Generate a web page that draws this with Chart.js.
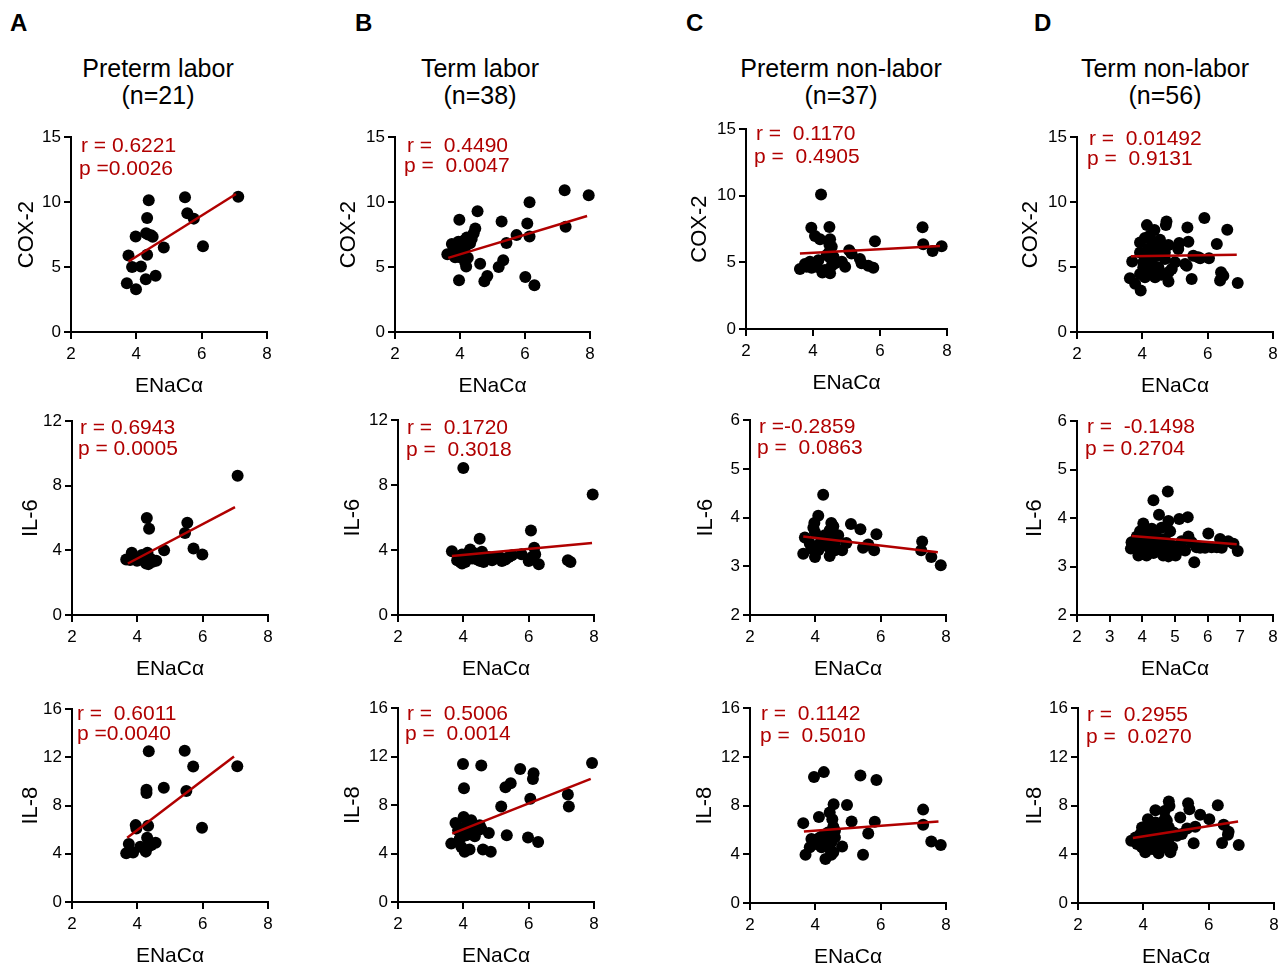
<!DOCTYPE html>
<html>
<head>
<meta charset="utf-8">
<script src="https://cdn.jsdelivr.net/npm/chart.js@4.4.1/dist/chart.umd.min.js"></script>
<style>
  body { margin: 0; background: #fff; width: 1280px; height: 965px; position: relative; overflow: hidden;
         font-family: "Liberation Sans", Arial, sans-serif; color: #000; }
  canvas { position: absolute; }
  .letter { position: absolute; font-weight: bold; font-size: 24px; line-height: 1; }
  .ttl { position: absolute; font-size: 25px; line-height: 27px; text-align: center; white-space: nowrap; transform: translateX(-50%); }
  .stat { position: absolute; color: #b00000; font-size: 21px; line-height: 1; white-space: pre; }
</style>
</head>
<body>
<div class="letter" style="left:10px;top:11px">A</div>
<div class="letter" style="left:355px;top:11px">B</div>
<div class="letter" style="left:686px;top:11px">C</div>
<div class="letter" style="left:1034px;top:11px">D</div>
<div class="ttl" style="left:158px;top:55px">Preterm labor<br>(n=21)</div>
<div class="ttl" style="left:480px;top:55px">Term labor<br>(n=38)</div>
<div class="ttl" style="left:841px;top:55px">Preterm non-labor<br>(n=37)</div>
<div class="ttl" style="left:1165px;top:55px">Term non-labor<br>(n=56)</div>
<script>
// ---------- data (ENaCα on x) ----------
// Preterm labor
const ptlCoxX = [4.38,5.49,7.12,5.56,5.76,4.33,4.30,4.50,3.98,4.45,4.84,6.04,3.76,4.33,3.87,4.14,4.59,4.29,3.71,3.99,4.36];
const ptlCoxY = [10.15,10.38,10.41,9.14,8.73,8.78,7.61,7.33,7.36,7.45,6.50,6.60,5.89,5.94,5.00,5.05,4.34,4.06,3.76,3.30,7.50];
const ptlCoxFit = [[3.76,5.43],[7.05,10.63]];
const ptlIl6X = [7.07,4.29,4.36,5.53,5.46,4.82,5.72,5.99,3.66,3.83,3.99,4.14,4.31,4.27,4.39,4.58,3.90,4.09,4.34,4.47,3.78];
const ptlIl6Y = [8.62,6.00,5.34,5.71,5.08,4.01,4.12,3.75,3.44,3.85,3.36,3.71,3.85,3.19,3.50,3.36,3.60,3.44,3.15,3.30,3.40];
const ptlIl6Fit = [[3.71,3.19],[6.99,6.68]];
const ptlIl8X = [4.35,5.45,5.71,7.06,4.81,4.28,4.28,5.50,3.95,3.97,4.33,5.98,4.30,4.56,4.43,3.74,4.09,3.66,3.87,4.26,4.33];
const ptlIl8Y = [12.51,12.56,11.24,11.27,9.48,9.32,9.04,9.21,6.38,6.10,6.32,6.16,5.33,4.92,4.73,4.81,4.59,4.04,4.10,4.18,4.59];
const ptlIl8Fit = [[3.69,5.33],[6.96,12.07]];

// Term labor
const tlCoxX = [7.22,7.96,6.14,4.54,3.98,5.28,6.07,4.47,4.42,4.21,7.25,5.74,6.14,5.43,3.75,3.95,4.31,4.06,3.61,3.85,
                4.06,4.24,4.16,4.19,4.62,5.33,5.19,3.97,4.84,4.75,6.01,6.29,3.90,4.00,4.11,3.80,4.14,4.36];
const tlCoxY = [10.91,10.53,10.00,9.29,8.65,8.50,8.35,7.97,7.61,7.28,8.10,7.46,7.36,6.85,6.78,6.95,6.83,6.65,5.99,5.76,
                6.14,5.71,5.38,5.05,5.25,5.53,5.00,3.98,4.31,3.91,4.24,3.60,6.40,5.76,7.03,6.27,6.35,7.16];
const tlCoxFit = [[3.64,5.71],[7.91,8.93]];
const tlIl6X = [4.00,7.96,6.07,4.50,3.65,3.96,4.21,4.57,4.37,3.81,3.96,4.27,4.62,4.88,5.18,5.39,5.49,5.78,6.17,6.20,
                6.00,6.31,7.20,7.28,4.11,4.78,4.42,4.06,5.13,3.86,4.67,4.32,3.91,6.10,5.29,4.52,4.16,4.98];
const tlIl6Y = [9.06,7.42,5.21,4.70,3.93,3.72,4.03,3.89,3.68,3.37,3.17,3.48,3.27,3.37,3.33,3.58,3.68,3.74,4.15,3.74,
                3.33,3.13,3.37,3.27,3.78,3.58,3.42,3.27,3.54,3.58,3.58,3.82,3.27,3.58,3.42,3.33,3.58,3.48];
const tlIl6Fit = [[3.65,3.64],[7.94,4.44]];
const tlIl8X = [3.99,4.55,7.94,5.74,6.15,6.13,5.45,5.29,4.02,6.05,7.20,7.23,5.16,4.01,3.76,4.24,4.50,4.04,4.30,4.45,
                3.84,4.09,4.35,4.78,5.33,3.63,3.94,4.04,4.19,4.60,4.84,5.98,6.29,4.14,3.94,4.19,3.89,4.55];
const tlIl8Y = [11.40,11.26,11.48,10.99,10.63,10.16,9.81,9.48,9.40,8.52,8.88,7.89,7.89,7.01,6.52,6.74,6.33,6.19,5.78,5.92,
                5.92,5.51,5.42,5.70,5.51,4.82,4.55,4.14,4.33,4.33,4.14,5.32,4.96,5.92,5.37,6.47,5.23,6.05];
const tlIl8Fit = [[3.66,5.64],[7.90,10.16]];

// Preterm non-labor
const ptnCoxX = [4.24,3.95,4.49,7.27,4.06,4.21,4.51,4.49,5.85,7.29,7.84,7.57,5.08,4.49,4.51,4.16,3.91,3.76,3.61,3.96,
                 4.36,4.51,4.28,4.66,4.86,4.96,5.40,5.45,5.65,5.80,4.56,4.41,4.61,4.11,5.15,3.81,4.56];
const ptnCoxY = [10.10,7.61,7.66,7.64,6.99,6.74,6.74,6.34,6.59,6.37,6.22,5.85,5.92,5.80,5.35,5.17,5.05,4.88,4.50,4.60,
                 4.43,4.18,4.25,4.93,5.05,4.68,5.25,4.93,4.75,4.60,6.17,5.55,5.42,4.68,5.67,4.68,4.75];
const ptnCoxFit = [[3.61,5.67],[7.79,6.24]];
const ptnIl6X = [4.24,4.09,3.97,3.94,4.49,4.55,4.44,5.09,5.38,5.87,4.29,4.49,3.68,3.83,4.14,4.60,4.95,4.19,5.62,5.46,
                 5.80,4.82,4.44,3.99,3.63,7.27,7.24,7.55,7.84,4.39,4.60,3.88,4.24,3.99,4.70,4.39,4.09];
const ptnIl6Y = [4.47,4.04,3.89,3.79,3.89,3.82,3.74,3.87,3.76,3.66,3.64,3.60,3.59,3.47,3.47,3.48,3.48,3.60,3.45,3.38,
                 3.33,3.33,3.21,3.19,3.26,3.51,3.33,3.19,3.02,3.40,3.33,3.36,3.52,3.70,3.64,3.50,3.33];
const ptnIl6Fit = [[3.63,3.61],[7.75,3.29]];
const ptnIl8X = [4.26,3.96,5.38,5.87,4.56,4.97,7.30,4.44,4.11,4.52,3.63,5.11,5.82,7.30,4.55,5.62,7.55,7.84,3.88,4.14,
                 4.60,3.99,3.83,4.82,4.44,3.70,4.31,4.55,5.46,4.29,4.49,4.39,4.19,3.99,4.60,4.49,4.24];
const ptnIl8Y = [10.75,10.34,10.48,10.10,8.11,8.05,7.67,7.43,7.07,6.88,6.56,6.69,6.67,6.42,6.26,5.71,5.06,4.76,5.25,5.39,
                 5.39,4.84,4.57,4.65,4.44,3.97,3.62,4.16,3.97,4.98,4.98,5.80,4.57,5.17,5.93,3.97,5.52];
const ptnIl8Fit = [[3.65,5.88],[7.77,6.69]];

// Term non-labor
const tnCoxX = [5.90,6.60,4.74,4.72,4.14,4.37,5.38,4.08,3.93,4.54,4.29,4.80,5.13,5.41,6.28,4.18,4.59,4.44,4.13,5.56,
                5.77,6.04,3.69,4.03,4.23,5.00,5.31,4.90,4.80,4.18,4.08,4.39,4.59,4.80,5.51,6.41,6.48,6.38,6.92,3.62,
                3.78,3.95,3.93,4.34,4.49,4.34,4.69,4.03,4.54,4.69,4.23,5.36,5.71,5.10,3.93,4.29];
const tnCoxY = [8.77,7.87,8.51,8.23,8.23,7.85,8.05,7.23,6.90,7.10,6.95,6.70,6.85,6.95,6.77,6.39,6.26,5.88,5.88,5.88,
                5.67,5.67,5.42,5.37,5.11,5.37,5.24,4.86,4.60,4.60,4.22,4.22,4.40,3.88,4.09,4.60,4.34,3.96,3.78,4.14,
                3.71,3.19,6.13,6.39,4.98,4.73,5.62,4.98,6.64,6.13,7.41,5.11,5.75,6.39,4.47,5.49];
const tnCoxFit = [[3.65,5.83],[6.89,5.95]];
const tnIl6X = [4.78,4.34,4.51,4.80,5.13,5.39,4.03,3.93,4.59,4.85,4.29,4.39,3.67,3.83,4.13,4.69,5.41,6.02,6.38,6.63,
                5.51,5.77,5.92,6.28,6.43,5.31,3.65,3.98,4.08,4.34,4.29,4.64,4.80,5.02,4.49,4.90,4.13,5.59,6.92,6.79,
                4.69,3.93,3.78,4.54,4.23,5.00,5.20,4.44,4.03,4.59,4.18,5.66,6.12,4.85,3.88,5.10];
const tnIl6Y = [4.55,4.37,4.07,3.94,3.98,4.02,3.89,3.73,3.80,3.73,3.78,3.66,3.50,3.62,3.62,3.57,3.62,3.68,3.57,3.52,
                3.50,3.39,3.39,3.40,3.39,3.33,3.37,3.26,3.37,3.28,3.40,3.23,3.21,3.23,3.47,3.44,3.23,3.09,3.32,3.47,
                3.40,3.47,3.40,3.57,3.50,3.40,3.52,3.35,3.50,3.33,3.76,3.40,3.40,3.33,3.23,3.33];
const tnIl6Fit = [[3.67,3.63],[6.89,3.46]];
const tnIl8X = [4.78,4.80,5.37,5.41,6.28,4.37,4.65,5.74,6.02,4.14,5.13,4.67,4.57,6.46,3.96,4.27,4.78,5.34,5.59,6.61,
                6.59,5.03,3.91,4.16,4.47,4.65,3.63,3.81,4.06,4.32,4.78,4.88,4.52,4.27,4.06,4.47,4.83,5.54,6.41,6.92,
                3.96,4.16,4.37,3.96,4.62,4.93,3.76,4.21,4.42,4.67,5.18,4.01,4.37,4.72,3.86,4.57];
const tnIl8Y = [8.33,7.97,8.19,7.70,8.03,7.62,7.56,7.24,6.88,6.88,7.02,6.97,6.61,6.42,6.20,6.20,6.20,6.12,6.26,5.85,
                5.61,5.52,5.66,5.80,5.66,5.44,5.12,4.84,4.98,5.17,5.25,4.57,4.84,4.44,4.16,4.08,4.16,4.90,4.93,4.76,
                4.57,5.39,5.66,5.25,6.07,5.80,5.39,4.84,4.57,4.57,5.66,5.80,6.61,6.75,5.12,5.12];
const tnIl8Fit = [[3.68,5.33],[6.90,6.69]];

// ---------- panel layout ----------
const RED = "#b00000";
const FONT = '"Liberation Sans", Arial, sans-serif';
const WY = 60, TOP = 12, RIGHT = 14, HX = 67;

const panels = [
  { x: ptlCoxX, y: ptlCoxY, fit: ptlCoxFit, L: 71, R: 267, T: 136, B: 332, ymin: 0, ymax: 15, ystep: 5, xstep: 2, ylab: "COX-2", yt: 44,
    r: "r = 0.6221", p: "p =0.0026", rx: 81, ry: 145, px: 79, py: 168 },
  { x: tlCoxX, y: tlCoxY, fit: tlCoxFit, L: 395, R: 590, T: 136, B: 332, ymin: 0, ymax: 15, ystep: 5, xstep: 2, ylab: "COX-2", yt: 46,
    r: "r =  0.4490", p: "p =  0.0047", rx: 407, ry: 145, px: 404, py: 165 },
  { x: ptnCoxX, y: ptnCoxY, fit: ptnCoxFit, L: 746, R: 947, T: 128, B: 329, ymin: 0, ymax: 15, ystep: 5, xstep: 2, ylab: "COX-2", yt: 46,
    r: "r =  0.1170", p: "p =  0.4905", rx: 756, ry: 133, px: 754, py: 156 },
  { x: tnCoxX, y: tnCoxY, fit: tnCoxFit, L: 1077, R: 1273, T: 136, B: 332, ymin: 0, ymax: 15, ystep: 5, xstep: 2, ylab: "COX-2", yt: 46,
    r: "r =  0.01492", p: "p =  0.9131", rx: 1089, ry: 138, px: 1087, py: 158 },
  { x: ptlIl6X, y: ptlIl6Y, fit: ptlIl6Fit, L: 72, R: 268, T: 420, B: 615, ymin: 0, ymax: 12, ystep: 4, xstep: 2, ylab: "IL-6", yt: 41,
    r: "r = 0.6943", p: "p = 0.0005", rx: 80, ry: 427, px: 78, py: 448 },
  { x: tlIl6X, y: tlIl6Y, fit: tlIl6Fit, L: 398, R: 594, T: 419, B: 615, ymin: 0, ymax: 12, ystep: 4, xstep: 2, ylab: "IL-6", yt: 45,
    r: "r =  0.1720", p: "p =  0.3018", rx: 407, ry: 427, px: 406, py: 449 },
  { x: ptnIl6X, y: ptnIl6Y, fit: ptnIl6Fit, L: 750, R: 946, T: 419, B: 615, ymin: 2, ymax: 6, ystep: 1, xstep: 2, ylab: "IL-6", yt: 44,
    r: "r =-0.2859", p: "p =  0.0863", rx: 759, ry: 426, px: 757, py: 447 },
  { x: tnIl6X, y: tnIl6Y, fit: tnIl6Fit, L: 1077, R: 1273, T: 420, B: 615, ymin: 2, ymax: 6, ystep: 1, xstep: 1, ylab: "IL-6", yt: 42,
    r: "r =  -0.1498", p: "p = 0.2704", rx: 1087, ry: 426, px: 1085, py: 448 },
  { x: ptlIl8X, y: ptlIl8Y, fit: ptlIl8Fit, L: 72, R: 268, T: 708, B: 902, ymin: 0, ymax: 16, ystep: 4, xstep: 2, ylab: "IL-8", yt: 41,
    r: "r =  0.6011", p: "p =0.0040", rx: 77, ry: 713, px: 77, py: 733 },
  { x: tlIl8X, y: tlIl8Y, fit: tlIl8Fit, L: 398, R: 594, T: 707, B: 902, ymin: 0, ymax: 16, ystep: 4, xstep: 2, ylab: "IL-8", yt: 45,
    r: "r =  0.5006", p: "p =  0.0014", rx: 407, ry: 713, px: 405, py: 733 },
  { x: ptnIl8X, y: ptnIl8Y, fit: ptnIl8Fit, L: 750, R: 946, T: 707, B: 903, ymin: 0, ymax: 16, ystep: 4, xstep: 2, ylab: "IL-8", yt: 45,
    r: "r =  0.1142", p: "p =  0.5010", rx: 761, ry: 713, px: 760, py: 735 },
  { x: tnIl8X, y: tnIl8Y, fit: tnIl8Fit, L: 1078, R: 1274, T: 707, B: 903, ymin: 0, ymax: 16, ystep: 4, xstep: 2, ylab: "IL-8", yt: 43,
    r: "r =  0.2955", p: "p =  0.0270", rx: 1087, ry: 714, px: 1086, py: 736 },
];

const statDiv = (txt, x, y) => {
  const d = document.createElement("div");
  d.className = "stat";
  d.textContent = txt;
  d.style.left = x + "px";
  d.style.top = (y - 11) + "px";
  document.body.appendChild(d);
};

const axisBase = {
  grid: { drawOnChartArea: false, drawTicks: true, tickLength: 7, color: "#000", lineWidth: 2 },
  border: { display: true, color: "#000", width: 2 },
};

panels.forEach(p => {
  const w = WY + (p.R - p.L) + RIGHT;
  const h = TOP + (p.B - p.T) + HX;
  const cv = document.createElement("canvas");
  cv.width = w; cv.height = h;
  cv.style.left = (p.L - WY) + "px";
  cv.style.top = (p.T - TOP) + "px";
  cv.style.width = w + "px"; cv.style.height = h + "px";
  document.body.appendChild(cv);

  new Chart(cv, {
    type: "scatter",
    data: {
      datasets: [
        { type: "line", data: p.fit.map(([x, y]) => ({ x, y })), borderColor: RED, borderWidth: 2.5,
          pointRadius: 0, fill: false, order: 0, clip: false },
        { data: p.x.map((x, i) => ({ x, y: p.y[i] })), backgroundColor: "#000", borderWidth: 0,
          pointRadius: 6, order: 1, clip: false },
      ]
    },
    options: {
      responsive: false, animation: false, devicePixelRatio: 1,
      layout: { padding: { top: TOP, right: RIGHT, left: 0, bottom: 0 } },
      plugins: { legend: { display: false }, tooltip: { enabled: false } },
      scales: {
        x: {
          ...axisBase, type: "linear", min: 2, max: 8,
          ticks: { stepSize: p.xstep, font: { size: 17, family: FONT }, color: "#000", padding: 5 },
          title: { display: true, text: "ENaCα", font: { size: 21, family: FONT }, color: "#000", padding: 0 },
          afterFit: s => { s.height = HX; }
        },
        y: {
          ...axisBase, type: "linear", min: p.ymin, max: p.ymax,
          ticks: { stepSize: p.ystep, font: { size: 17, family: FONT }, color: "#000", padding: 3 },
          title: { display: true, text: p.ylab, font: { size: 22, family: FONT }, color: "#000",
                   padding: { top: Math.max(0, WY - p.yt - 13.2), bottom: 0 } },
          afterFit: s => { s.width = WY; }
        }
      }
    }
  });

  statDiv(p.r, p.rx, p.ry);
  statDiv(p.p, p.px, p.py);
});
</script>
</body>
</html>
